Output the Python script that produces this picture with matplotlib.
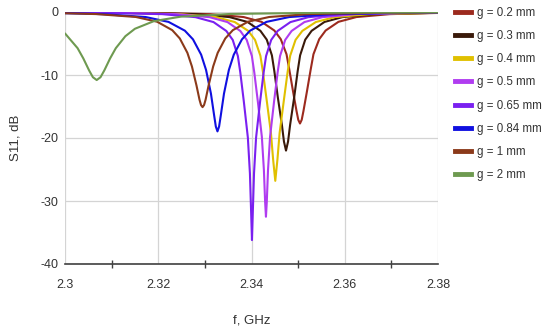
import matplotlib
matplotlib.use("Agg")
import matplotlib.pyplot as plt
from matplotlib.ticker import MultipleLocator

plt.rcParams['font.family'] = ['Liberation Sans', 'DejaVu Sans']
plt.rcParams['axes.unicode_minus'] = False

labels = ["g = 0.2 mm", "g = 0.3 mm", "g = 0.4 mm", "g = 0.5 mm",
          "g = 0.65 mm", "g = 0.84 mm", "g = 1 mm", "g = 2 mm"]
colors = ["#9c2a1e", "#3a1a0a", "#e0c000", "#b03cf0",
          "#7a20f0", "#1010e0", "#8b3a1a", "#6e9a50"]

f_g02 = [2.3, 2.3174, 2.33115, 2.3383, 2.34215, 2.3449, 2.346275, 2.34751, 2.34809, 2.34891,
         2.34966, 2.35003, 2.3504, 2.35077, 2.35114, 2.35189, 2.35271, 2.35329, 2.354525,
         2.3559, 2.35865, 2.3625, 2.36965, 2.38]
s_g02 = [-0.05, -0.12, -0.34, -0.80, -1.56, -2.94, -4.31, -6.70, -9.06, -12.61,
         -15.73, -17.11, -17.70, -17.11, -15.73, -12.61, -9.06, -6.70, -4.31,
         -2.94, -1.56, -0.80, -0.34, -0.15]

f_g03 = [2.3, 2.3144, 2.32815, 2.3353, 2.33915, 2.3419, 2.343275, 2.344375, 2.3449, 2.34564,
         2.34652, 2.34696, 2.3474, 2.34784, 2.34828, 2.34916, 2.3499, 2.350425, 2.351525,
         2.3529, 2.35565, 2.3595, 2.36665, 2.38]
s_g03 = [-0.06, -0.12, -0.34, -0.81, -1.58, -2.98, -4.39, -6.88, -9.40, -13.51,
         -17.92, -20.56, -22.0, -20.56, -17.92, -13.51, -9.40, -6.88, -4.39,
         -2.98, -1.58, -0.81, -0.34, -0.12]

f_g04 = [2.3, 2.3103, 2.3248, 2.33234, 2.3364, 2.3393, 2.34075, 2.34191, 2.34246, 2.343244,
         2.344172, 2.344636, 2.3451, 2.345564, 2.346028, 2.346956, 2.34774, 2.34829, 2.34945,
         2.3509, 2.3538, 2.35786, 2.3654, 2.38]
s_g04 = [-0.07, -0.12, -0.34, -0.81, -1.59, -3.00, -4.42, -6.95, -9.55, -13.92,
         -19.22, -23.4, -26.8, -23.4, -19.22, -13.92, -9.55, -6.95, -4.42,
         -3.00, -1.59, -0.81, -0.34, -0.12]

f_g05 = [2.3, 2.3101, 2.32385, 2.331, 2.33485, 2.3376, 2.338975, 2.340075, 2.3406, 2.34134,
         2.34222, 2.34266, 2.342924, 2.3431, 2.343276, 2.34354, 2.34398, 2.34486, 2.3456,
         2.346125, 2.347225, 2.3486, 2.35135, 2.3552, 2.36235, 2.3761, 2.38]
s_g05 = [-0.07, -0.12, -0.34, -0.82, -1.60, -3.01, -4.43, -6.98, -9.60, -14.09,
         -19.81, -25.1, -30.2, -32.5, -30.2, -25.1, -19.81, -14.09, -9.60,
         -6.98, -4.43, -3.01, -1.60, -0.82, -0.34, -0.12, -0.10]

f_g065 = [2.3, 2.3071, 2.32085, 2.328, 2.33185, 2.3346, 2.335975, 2.337075, 2.3376, 2.33834,
          2.33922, 2.33966, 2.339924, 2.3401, 2.340276, 2.34054, 2.34098, 2.34186, 2.3426,
          2.343125, 2.344225, 2.3456, 2.34835, 2.3522, 2.35935, 2.3731, 2.38]
s_g065 = [-0.08, -0.12, -0.34, -0.82, -1.60, -3.01, -4.43, -6.99, -9.61, -14.12,
          -19.94, -25.6, -31.9, -36.2, -31.9, -25.6, -19.94, -14.12, -9.61,
          -6.99, -4.43, -3.01, -1.60, -0.82, -0.34, -0.12, -0.08]

f_g084 = [2.3, 2.3082, 2.3173, 2.3222, 2.3257, 2.32745, 2.3292, 2.33025, 2.3313, 2.3320,
          2.33235, 2.3327, 2.33305, 2.3334, 2.3341, 2.33515, 2.3362, 2.33795, 2.3397,
          2.3432, 2.3481, 2.3572, 2.3747, 2.38]
s_g084 = [-0.19, -0.34, -0.80, -1.57, -2.96, -4.34, -6.77, -9.19, -12.95, -16.48,
          -18.18, -18.95, -18.18, -16.48, -12.95, -9.19, -6.77, -4.34, -2.96,
          -1.57, -0.80, -0.34, -0.12, -0.09]

f_g1 = [2.3, 2.3067, 2.3152, 2.31975, 2.3230, 2.324625, 2.32625, 2.327225, 2.3282, 2.32885,
        2.329175, 2.3295, 2.329825, 2.33015, 2.3308, 2.331775, 2.33275, 2.334375, 2.336,
        2.33925, 2.3438, 2.35225, 2.3685, 2.38]
s_g1 = [-0.20, -0.33, -0.79, -1.54, -2.88, -4.20, -6.48, -8.65, -11.66, -13.93,
        -14.77, -15.10, -14.77, -13.93, -11.66, -8.65, -6.48, -4.20, -2.88,
        -1.54, -0.79, -0.33, -0.115, -0.07]

f_g2 = [2.3, 2.3027, 2.30393, 2.30516, 2.30598, 2.3068, 2.30762, 2.30844, 2.30967, 2.3109,
        2.31295, 2.315, 2.3191, 2.32484, 2.3355, 2.356, 2.38]
s_g2 = [-3.40, -5.74, -7.37, -9.26, -10.35, -10.80, -10.35, -9.26, -7.37, -5.74,
        -3.84, -2.66, -1.44, -0.74, -0.31, -0.11, -0.05]

series = [(f_g02, s_g02), (f_g03, s_g03), (f_g04, s_g04), (f_g05, s_g05),
          (f_g065, s_g065), (f_g084, s_g084), (f_g1, s_g1), (f_g2, s_g2)]

xticks = [2.3, 2.32, 2.34, 2.36, 2.38]
xtick_labels = ["2.3", "2.32", "2.34", "2.36", "2.38"]
yticks = [-40, -30, -20, -10, 0]

fig = plt.figure(figsize=(5.5, 3.29), dpi=100)
ax = fig.add_axes([65/550, 1-264/329, (438-65)/550, (264-12)/329])

for (f, s), lab, c in zip(series, labels, colors):
    ax.plot(f, s, color=c, lw=1.5, label=lab, solid_capstyle='round',
            solid_joinstyle='round')

ax.set_xlim(2.3, 2.38)
ax.set_ylim(-40, 0)
ax.set_xticks(xticks)
ax.set_xticklabels(xtick_labels)
ax.set_yticks(yticks)
ax.xaxis.set_minor_locator(MultipleLocator(0.01))
ax.grid(True, which='major', color='#d4d4d4', lw=0.9)
ax.set_axisbelow(True)
for sp in ['top', 'right', 'left']:
    ax.spines[sp].set_visible(False)
ax.spines['bottom'].set_color('#404040')
ax.spines['bottom'].set_linewidth(1.2)
ax.tick_params(axis='x', which='major', length=0, pad=10.5, labelsize=9, colors='#333333')
ax.tick_params(axis='x', which='minor', length=6, direction='inout', width=1, color='#404040')
ax.tick_params(axis='y', which='major', length=0, pad=5, labelsize=9, colors='#333333')
ax.set_xlabel("f, GHz", fontsize=9.5, color='#333333', labelpad=17)
ax.set_ylabel("S11, dB", fontsize=9.5, color='#333333', labelpad=13)

leg_handles = [plt.Line2D([], [], color=c, lw=3.5) for c in colors]
fig.legend(leg_handles, labels, loc='upper left', bbox_to_anchor=(455/550, 0.979),
           frameon=False, fontsize=8.3, handlelength=1.4, handletextpad=0.55,
           labelspacing=0.97, borderpad=0, borderaxespad=0, labelcolor='#333333')

fig.savefig("out.png", dpi=100)
